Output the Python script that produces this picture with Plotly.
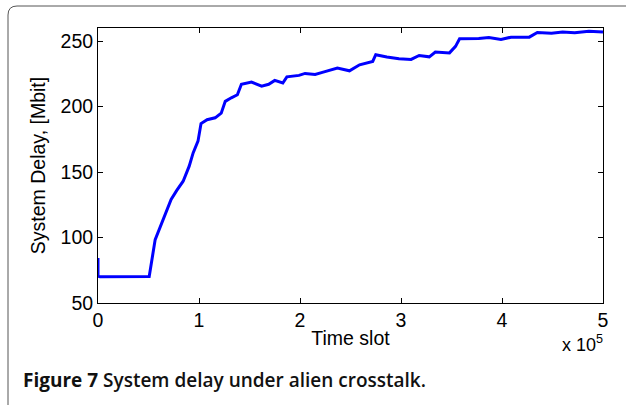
import plotly.graph_objects as go

# Time slot (units of slots) and system delay [Mbit]
time_slot = [0, 0, 2000, 30000, 50700, 56600, 60600, 66000, 72400, 78000, 84300, 90300, 94200, 99000,
             102000, 108000, 116000, 122000, 126000, 132000, 138000, 142000, 152000,
             162000, 169000, 175000, 183000, 187000, 199000, 205000, 215000, 223000,
             237000, 249000, 259000, 272000, 275000, 286000, 298000, 310000, 318000,
             328000, 334000, 348000, 354000, 358000, 377000, 387000, 399000, 409000,
             427000, 435000, 449000, 460000, 472000, 486000, 500000]
delay = [84.4, 70.4, 70.0, 70.2, 70.2, 98.4, 106, 117, 129, 136, 143, 154.5, 164.6, 173.6,
         187, 190, 191.4, 195, 204, 206.7, 209, 217, 218.7,
         215.6, 217, 220, 218, 222.7, 223.8, 225.3, 224.5, 226.3,
         229.4, 227.3, 231.9, 234.5, 239.6, 237.8, 236.5, 236, 239,
         238, 241.6, 241, 246, 251.8, 252, 252.8, 251.3, 253,
         253, 256.6, 256, 256.9, 256.4, 257.6, 256.9]

x_ticks = [0, 100000, 200000, 300000, 400000, 500000]
x_tick_labels = ["0", "1", "2", "3", "4", "5"]
y_ticks = [50, 100, 150, 200, 250]

W, H = 626, 405
L, R, T, B = 98, 23, 28, 102
pw, ph = W - L - R, H - T - B

def px(x):
    return (x - L) / pw

def py(y):
    return (H - B - y) / ph

fig = go.Figure()
fig.add_trace(go.Scatter(x=time_slot, y=delay, mode="lines",
                         line=dict(color="#0000ff", width=3), showlegend=False))

FAM = "Liberation Sans, Arial, sans-serif"
axis_font = dict(family=FAM, size=19.5, color="black")
fig.update_xaxes(range=[0, 500000], tickvals=x_ticks, ticktext=x_tick_labels,
                 ticks="inside", ticklen=5, tickcolor="black", mirror="ticks",
                 showline=True, linecolor="black", linewidth=1, showgrid=False,
                 zeroline=False, tickfont=axis_font,
                 title=dict(text="Time slot", font=axis_font, standoff=0))
fig.update_yaxes(range=[50, 260], tickvals=y_ticks,
                 ticks="inside", ticklen=5, tickcolor="black", mirror="ticks",
                 showline=True, linecolor="black", linewidth=1, showgrid=False,
                 zeroline=False, tickfont=axis_font,
                 title=dict(text="System Delay, [Mbit]", font=axis_font, standoff=9))

# rounded frame
r = 9
x0, y0, x1, y1 = 8, 6, 640, 420
rx, ry = r / pw, r / ph
path = (f"M {px(x0)},{py(y1)} L {px(x0)},{py(y0) - ry} "
        f"Q {px(x0)},{py(y0)} {px(x0) + rx},{py(y0)} "
        f"L {px(x1)},{py(y0)}")
fig.add_shape(type="path", path=path, xref="paper", yref="paper",
              line=dict(color="#555555", width=1))

fig.add_annotation(x=px(605), y=py(357), xref="paper", yref="paper",
                   xanchor="right", yanchor="bottom", showarrow=False,
                   text="x 10<sup>5</sup>", font=dict(family=FAM, size=18, color="black"))
fig.add_annotation(x=px(21), y=py(380), xref="paper", yref="paper",
                   xanchor="left", yanchor="middle", showarrow=False,
                   text="<b>Figure 7</b> <span style='font-weight:600'>System delay under alien crosstalk.</span>",
                   font=dict(family="Open Sans, sans-serif", size=19, color="#111111"))

fig.update_layout(width=W, height=H, margin=dict(l=L, r=R, t=T, b=B),
                  plot_bgcolor="white", paper_bgcolor="white")
fig.write_html("out.html")
